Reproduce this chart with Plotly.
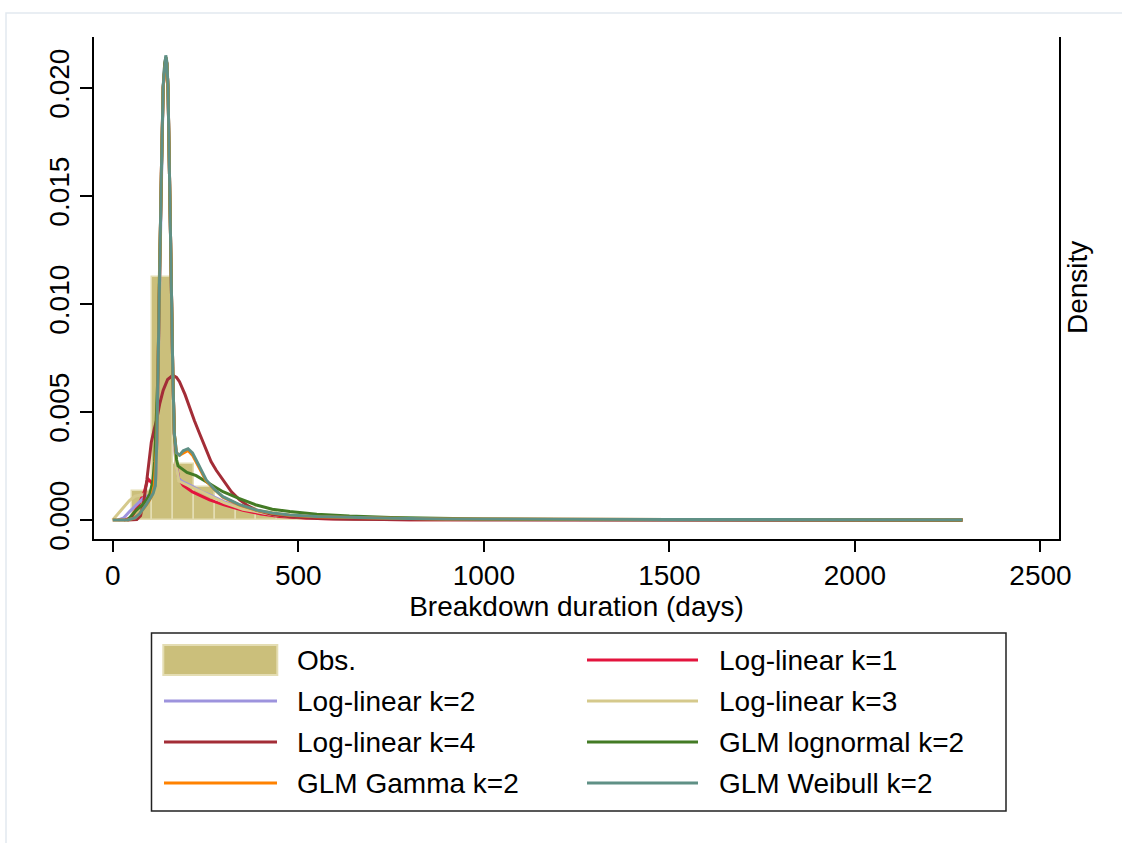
import plotly.graph_objects as go

# ---------------- data ----------------
hist_edges = [51, 107, 163, 219, 275, 331, 387, 443, 499, 555, 611, 667, 723]
hist_density = [0.00136, 0.01125, 0.00259, 0.00154, 0.00077, 0.00054,
                0.00036, 0.00021, 0.00013, 0.00008, 0.00005, 0.00003]

spike_x = [115, 119, 122, 126, 131, 136, 140, 143, 146, 149, 153, 157, 162, 166]
spike_y = [0.0016, 0.0037, 0.0068, 0.0114, 0.0160, 0.0200, 0.0211, 0.0214,
           0.0211, 0.0200, 0.0160, 0.0114, 0.0068, 0.0040]

k1_x = [30, 50, 70, 85, 95, 105, 112] + spike_x + [170, 178, 190, 215, 261, 300, 351, 400, 450, 530, 600, 800, 1200, 2290]
k1_y = [0.0, 0.0001, 0.0007, 0.0013, 0.0019, 0.0017, 0.0016] + spike_y + \
       [0.0027, 0.0019, 0.0016, 0.0013, 0.00093, 0.0007, 0.00045, 0.00028, 0.00016, 0.00008, 0.00004, 0.00001, 0.0, 0.0]

k2_x = [15, 30, 46, 65, 82, 100, 110] + spike_x + [170, 178, 190, 216, 240, 261, 300, 351, 400, 441, 530, 600, 800, 1000, 2290]
k2_y = [0.0, 0.0001, 0.0004, 0.0007, 0.0010, 0.0013, 0.0015] + spike_y + \
       [0.0026, 0.0019, 0.00175, 0.00154, 0.0013, 0.00116, 0.00085, 0.00054, 0.00035, 0.00023, 0.0001, 0.00006, 0.00002, 0.00001, 0.0]

k3_x = [0, 15, 28, 45, 60, 82, 100, 110] + spike_x + [170, 178, 190, 216, 261, 300, 351, 400, 441, 530, 600, 800, 1000, 2290]
k3_y = [0.0, 0.0003, 0.0006, 0.0009, 0.0011, 0.00118, 0.0013, 0.0014] + spike_y + \
       [0.0026, 0.0018, 0.0017, 0.0015, 0.0011, 0.0008, 0.0005, 0.00033, 0.00022, 0.0001, 0.00006, 0.00002, 0.00001, 0.0]

k4_x = [40, 65, 75, 84, 92, 98, 104, 112, 118, 127, 136, 148, 162, 172, 180, 195, 207, 220, 234, 252,
        265, 279, 297, 320, 342, 365, 387, 430, 477, 550, 650, 800, 2290]
k4_y = [0.0, 0.00002, 0.0002, 0.0009, 0.00185, 0.0027, 0.0036, 0.0042, 0.0046, 0.0054, 0.0060, 0.0065,
        0.0067, 0.0066, 0.0064, 0.0058, 0.0052, 0.0046, 0.0040, 0.0032, 0.0027, 0.0023, 0.00185, 0.0013,
        0.00093, 0.00065, 0.00046, 0.00025, 0.00015, 0.00007, 0.00003, 0.00001, 0.0]

lgn_x = [40, 64, 80, 91, 100, 108, 113] + spike_x[2:] + [172, 176, 200, 225, 260, 297, 340, 387, 430, 477,
                                                          550, 638, 750, 900, 1000, 1200, 1500, 2290]
lgn_y = [0.0, 0.00046, 0.0007, 0.00093, 0.0012, 0.0018, 0.0027] + spike_y[2:] + \
        [0.0028, 0.0025, 0.0022, 0.00205, 0.0017, 0.00131, 0.0010, 0.00069, 0.0005, 0.00039,
         0.00027, 0.00018, 0.00011, 0.00006, 0.00004, 0.00002, 0.00001, 0.000005]

gam_x = [0, 40, 60, 73, 95, 105, 112] + spike_x[1:] + [172, 180, 190, 203, 215, 230, 252, 275, 297, 340, 387,
                                                        430, 477, 550, 638, 750, 900, 1000, 1500, 2290]
gam_y = [0.0, 0.0, 0.0001, 0.0003, 0.0008, 0.0011, 0.0016] + spike_y[1:] + \
        [0.0031, 0.0030, 0.0031, 0.00322, 0.0030, 0.0025, 0.0018, 0.0014, 0.00105, 0.0007, 0.00045,
         0.00031, 0.00022, 0.00015, 0.00011, 0.00008, 0.00005, 0.00004, 0.00002, 0.00001]

wei_x = [0, 40, 60, 73, 90, 109] + spike_x + [172, 180, 190, 203, 215, 230, 252, 275, 297, 340, 387,
                                               430, 477, 550, 638, 750, 900, 1000, 1500, 2290]
wei_y = [0.0, 0.0, 0.0001, 0.0003, 0.0007, 0.00123] + [0.0016, 0.0037, 0.0068, 0.0114, 0.0160, 0.0201,
                                                       0.0212, 0.0215, 0.0212, 0.0201, 0.0160, 0.0114,
                                                       0.0068, 0.0040] + \
        [0.0031, 0.0030, 0.0032, 0.0033, 0.0031, 0.0026, 0.00185, 0.0014, 0.00108, 0.00072, 0.00046,
         0.00032, 0.00023, 0.00016, 0.00012, 0.00008, 0.00005, 0.00004, 0.00002, 0.00001]

series_names = ["Log-linear k=1", "Log-linear k=2", "Log-linear k=3", "Log-linear k=4",
                "GLM lognormal k=2", "GLM Gamma k=2", "GLM Weibull k=2"]
series_colors = ["#e3143d", "#9d93dd", "#d5c98c", "#a32d37", "#437b25", "#ff8200", "#5f9085"]
series_x = [k1_x, k2_x, k3_x, k4_x, lgn_x, gam_x, wei_x]
series_y = [k1_y, k2_y, k3_y, k4_y, lgn_y, gam_y, wei_y]

x_ticks = [0, 500, 1000, 1500, 2000, 2500]
y_ticks = [0.000, 0.005, 0.010, 0.015, 0.020]

hist_color = "#cbbf7b"
hist_edge = "#e4ddb3"
FONT = "Liberation Sans, Arial, sans-serif"
FS = 28

# ---------------- figure ----------------
fig = go.Figure()

centers = [(a + b) / 2 for a, b in zip(hist_edges[:-1], hist_edges[1:])]
widths = [b - a for a, b in zip(hist_edges[:-1], hist_edges[1:])]
fig.add_trace(go.Bar(x=centers, y=hist_density, width=widths, name="Obs.",
                     marker=dict(color=hist_color, line=dict(color=hist_edge, width=1.5)),
                     showlegend=False))

for nm, col, xs, ys in zip(series_names, series_colors, series_x, series_y):
    fig.add_trace(go.Scatter(x=xs, y=ys, mode="lines", name=nm,
                             line=dict(color=col, width=3), showlegend=False))

# geometry (pixels)
W, H = 1122, 843
PL, PR, PT, PB = 94, 1059, 37, 539


def xp(px):
    return (px - PL) / (PR - PL)


def yp(py):
    return (PB - py) / (PB - PT)


fig.update_layout(
    width=W, height=H,
    margin=dict(l=PL, r=W - PR, t=PT, b=H - PB),
    paper_bgcolor="white", plot_bgcolor="white",
    font=dict(family=FONT, size=FS, color="black"),
    showlegend=False,
    bargap=0,
)

fig.update_xaxes(range=[-50.4, 2550], tickvals=x_ticks, ticktext=[str(v) for v in x_ticks],
                 showgrid=False, zeroline=False, showline=True, linecolor="black", linewidth=1.5,
                 ticks="outside", ticklen=11, tickwidth=1.5, tickcolor="black",
                 tickfont=dict(size=FS, family=FONT),
                 title=dict(text="Breakdown duration (days)", font=dict(size=FS, family=FONT), standoff=0))
fig.update_yaxes(range=[-0.00088, 0.02235], tickvals=y_ticks, ticktext=[f"{v:.3f}" for v in y_ticks],
                 showgrid=False, zeroline=False, showline=True, linecolor="black", linewidth=1.5,
                 mirror=True, ticks="outside", ticklen=12, tickwidth=1.5, tickcolor="black",
                 tickangle=-90, tickfont=dict(size=FS, family=FONT))

shapes = []
annotations = []

# faint outer graph-region border
shapes.append(dict(type="rect", xref="paper", yref="paper", x0=xp(6), x1=xp(1200), y0=yp(13), y1=yp(900),
                   line=dict(color="#e2e9ef", width=1.5), fillcolor="rgba(0,0,0,0)", layer="below"))

# right-hand axis title
annotations.append(dict(text="Density", xref="paper", yref="paper", x=xp(1077), y=yp(288),
                        textangle=-90, showarrow=False, font=dict(size=FS, family=FONT),
                        xanchor="center", yanchor="middle"))

# legend box
shapes.append(dict(type="rect", xref="paper", yref="paper", x0=xp(151.5), x1=xp(1006), y0=yp(633), y1=yp(811),
                   line=dict(color="#222222", width=1.5), fillcolor="white"))

legend_names = ["Obs."] + series_names
legend_colors = [hist_color] + series_colors
row_y = [660, 701, 742, 783]
col_sym = [(164, 277), (587, 698)]
col_txt = [295, 717]
for i, (nm, col) in enumerate(zip(legend_names, legend_colors)):
    r, c = divmod(i, 2)
    yy = row_y[r]
    x0, x1 = col_sym[c]
    if i == 0:
        shapes.append(dict(type="rect", xref="paper", yref="paper", x0=xp(163.3), x1=xp(277.3),
                           y0=yp(645), y1=yp(675), fillcolor=hist_color,
                           line=dict(color=hist_edge, width=2)))
    else:
        shapes.append(dict(type="line", xref="paper", yref="paper", x0=xp(x0), x1=xp(x1),
                           y0=yp(yy), y1=yp(yy), line=dict(color=col, width=3)))
    annotations.append(dict(text=nm, xref="paper", yref="paper", x=xp(col_txt[c]), y=yp(yy),
                            xanchor="left", yanchor="middle", showarrow=False,
                            font=dict(size=FS, family=FONT)))

fig.update_layout(shapes=shapes, annotations=annotations)
fig.write_html("out.html")
